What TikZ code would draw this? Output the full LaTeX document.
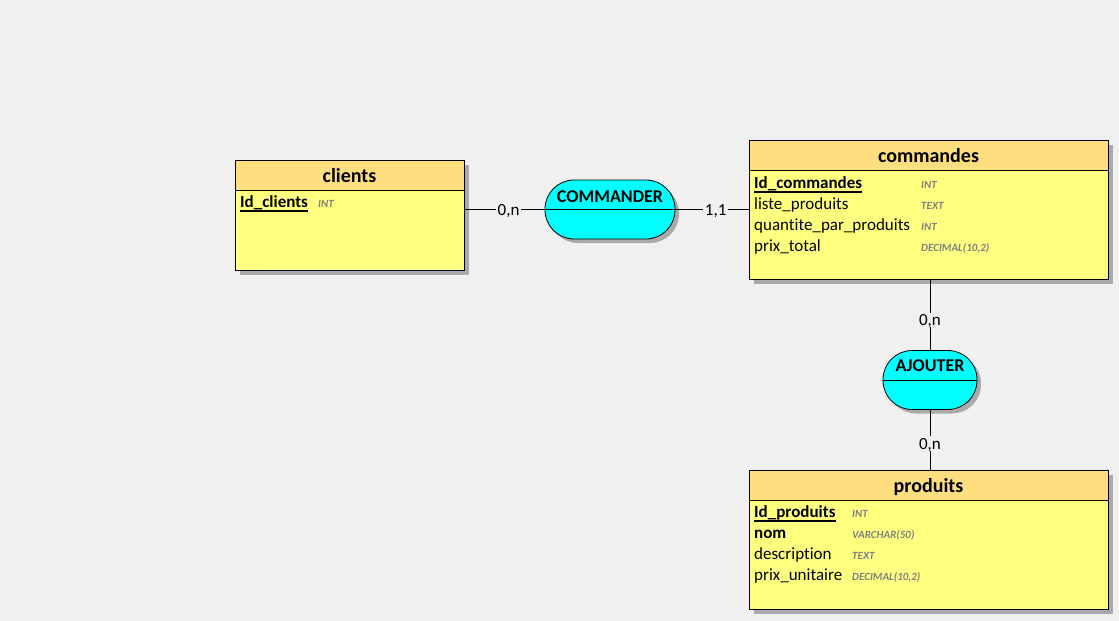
\documentclass[tikz,border=0pt]{standalone}
\usepackage{fontspec}
\setmainfont{Carlito}[Ligatures={NoCommon,NoRare,NoDiscretionary}]
\usetikzlibrary{shadows}
\definecolor{bgc}{RGB}{240,240,240}
\definecolor{headc}{RGB}{255,222,128}
\definecolor{bodyc}{RGB}{255,255,128}
\definecolor{relc}{RGB}{0,255,255}
\definecolor{typec}{RGB}{128,128,128}
\definecolor{shadc}{RGB}{170,170,170}
\begin{document}
\begin{tikzpicture}[x=1pt,y=-1pt,
  entity/.style={draw=black, line width=1pt, fill=bodyc, inner sep=0pt, outer sep=0pt, anchor=north west,
    drop shadow={shadow xshift=5pt, shadow yshift=-5pt, fill=shadc, opacity=1}},
  relation/.style={draw=black, line width=0.8pt, fill=relc, inner sep=0pt, outer sep=0pt, rounded corners=29pt,
    drop shadow={shadow xshift=4pt, shadow yshift=-4pt, fill=shadc, opacity=1}},
  header/.style={draw=black, line width=1pt, fill=headc},
  title/.style={font=\fontsize{20}{24}\selectfont\bfseries, anchor=base, inner sep=0pt},
  field/.style={font=\fontsize{17}{20}\selectfont, anchor=base west, inner sep=0pt},
  keyf/.style={font=\fontsize{17}{20}\selectfont\bfseries, anchor=base west, inner sep=0pt},
  typ/.style={font=\fontsize{11}{13}\selectfont\bfseries\itshape, text=typec, anchor=base west, inner sep=0pt},
  reltitle/.style={font=\fontsize{18}{21}\selectfont\bfseries, anchor=base, inner sep=0pt},
  card/.style={font=\fontsize{17}{20}\selectfont, fill=bgc, inner sep=1.5pt, text height=11.5pt, text depth=0pt},
  link/.style={draw=black, line width=0.8pt},
  uline/.style={line width=1.2pt}
]
\fill[bgc] (0,0) rectangle (1119,621);
\useasboundingbox (0,0) rectangle (1119,621);

% entities
\node[entity, minimum width=229pt, minimum height=110pt] (clients) at (235,160) {};
\draw[header] (clients.north west) rectangle ([yshift=-30pt]clients.north east);
\node[entity, minimum width=359pt, minimum height=139pt] (commandes) at (749,140) {};
\draw[header] (commandes.north west) rectangle ([yshift=-30pt]commandes.north east);
\node[entity, minimum width=359pt, minimum height=139pt] (produits) at (749,470) {};
\draw[header] (produits.north west) rectangle ([yshift=-30pt]produits.north east);

% relations
\node[relation, minimum width=130pt, minimum height=59pt] (commander) at (610,209.5) {};
\draw[line width=0.8pt] (commander.west) -- (commander.east);
\node[reltitle] (commander-t) at (610,202) {COMMANDER};
\node[relation, minimum width=94pt, minimum height=59pt] (ajouter) at (930,380) {};
\draw[line width=0.8pt] (ajouter.west) -- (ajouter.east);
\node[reltitle] (ajouter-t) at (930,371) {AJOUTER};

% titles
\node[title] (clients-t) at (349.5,182) {clients};
\node[title] (commandes-t) at (928.5,162) {commandes};
\node[title] (produits-t) at (928.5,492) {produits};

% clients fields
\node[keyf] (cl1) at (240,207) {Id\_clients};
\node[typ] (cl1t) at (318,207) {INT};
\draw[uline] ([yshift=-4pt]cl1.base west) -- ([yshift=-4pt]cl1.base east);

% commandes fields
\node[keyf] (co1) at (754,188) {Id\_commandes};
\draw[uline] ([yshift=-4pt]co1.base west) -- ([yshift=-4pt]co1.base east);
\node[field] (co2) at (754,209) {liste\_produits};
\node[field] (co3) at (754,230) {quantite\_par\_produits};
\node[field] (co4) at (754,251) {prix\_total};
\node[typ] (co1t) at (921,188) {INT};
\node[typ] (co2t) at (921,209) {TEXT};
\node[typ] (co3t) at (921,230) {INT};
\node[typ] (co4t) at (921,251) {DECIMAL(10,2)};

% produits fields
\node[keyf] (pr1) at (754,517) {Id\_produits};
\draw[uline] ([yshift=-4pt]pr1.base west) -- ([yshift=-4pt]pr1.base east);
\node[keyf] (pr2) at (754,538) {nom};
\node[field] (pr3) at (754,559) {description};
\node[field] (pr4) at (754,580) {prix\_unitaire};
\node[typ] (pr1t) at (852,517) {INT};
\node[typ] (pr2t) at (852,538) {VARCHAR(50)};
\node[typ] (pr3t) at (852,559) {TEXT};
\node[typ] (pr4t) at (852,580) {DECIMAL(10,2)};

% connectors
\draw[link] (clients.east |- commander.west) -- node[card, pos=0.55] (card1) {0,n} (commander.west);
\draw[link] (commander.east) -- node[card, pos=0.55] (card2) {1,1} (commander.east -| commandes.west);
\draw[link] (commandes.south -| ajouter.north) -- node[card, pos=0.57] (card3) {0,n} (ajouter.north);
\draw[link] (ajouter.south) -- node[card, pos=0.56] (card4) {0,n} (ajouter.south |- produits.north);
\end{tikzpicture}
\end{document}
